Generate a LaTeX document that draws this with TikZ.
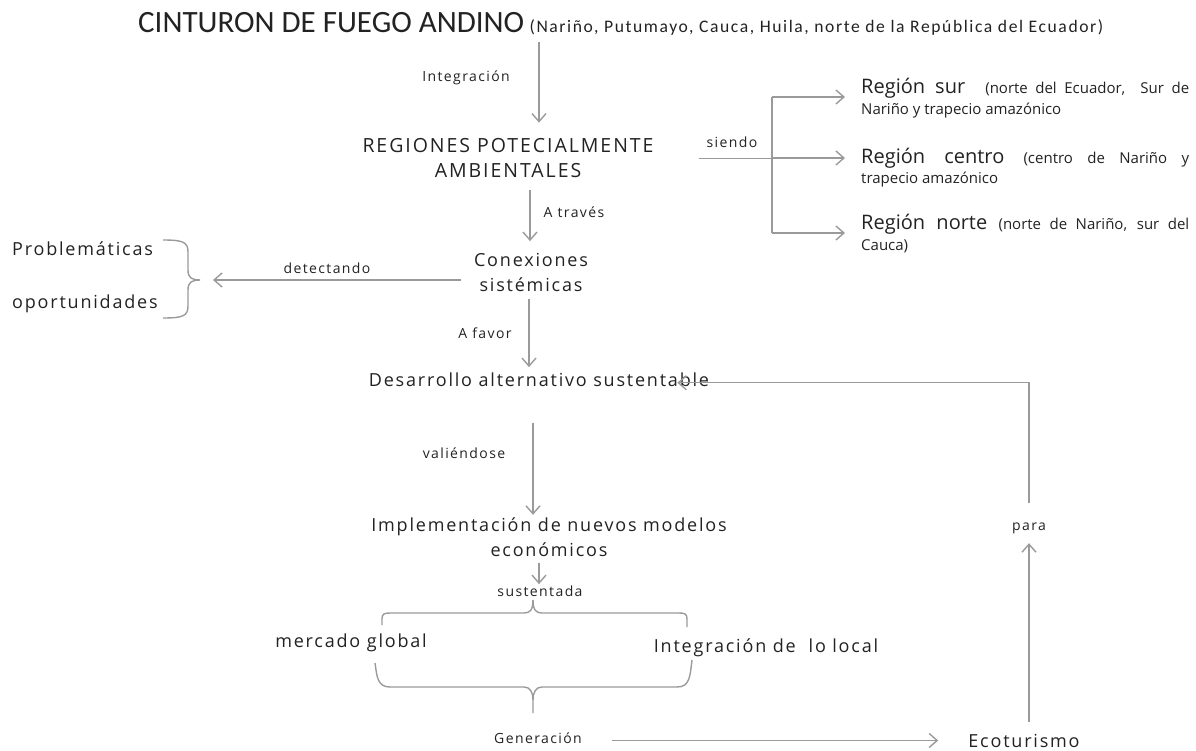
\documentclass[tikz,border=0pt]{standalone}
\usepackage{fontspec}
\setmainfont{Open Sans}[LetterSpace=10]
\newfontfamily\regfont{Open Sans}
\newfontfamily\calib{Carlito}
\newfontfamily\calibsp{Carlito}[LetterSpace=9]
\usetikzlibrary{arrows.meta}
\definecolor{txtc}{HTML}{222222}
\definecolor{lnc}{HTML}{9A9A9A}
\newcommand\rbigf{\regfont\fontsize{20}{24}\selectfont}
\newcommand\rsmallf{\regfont\fontsize{15}{18}\selectfont}
\begin{document}
\begin{tikzpicture}[x=1pt,y=-1pt,
  every node/.style={inner sep=1pt, text=txtc},
  body/.style={font=\fontsize{18}{25}\selectfont},
  bodyc/.style={body, align=center},
  lab/.style={font=\fontsize{14}{17}\selectfont},
  rline/.style={anchor=base west},
  ln/.style={draw=lnc, line width=1.4pt},
  arr/.style={ln, -{Straight Barb[length=8pt,width=14pt]}},
]
\useasboundingbox (0,0) rectangle (1196,751);

% ---- title
\node[anchor=base west, font=\calib\fontsize{31}{36}\selectfont] (title) at (137,33) {CINTURON DE FUEGO ANDINO};
\node[anchor=base west, font=\calibsp\fontsize{17.6}{20}\selectfont] (sub) at ([xshift=3pt]title.base east) {(Nariño, Putumayo, Cauca, Huila, norte de la República del Ecuador)};

% ---- main column
\node[lab, anchor=base] (lInteg) at (466,82) {Integración};
\node[bodyc, font=\fontsize{19.5}{25}\selectfont] (regiones) at (508,158.5) {REGIONES POTECIALMENTE\\AMBIENTALES};
\node[lab, anchor=base] (lTraves) at (574,218) {A través};
\node[bodyc] (conex) at (531,272.5) {Conexiones\\sistémicas};
\node[lab, anchor=base] (lFavor) at (485,338) {A favor};
\node[body, anchor=base] (desarrollo) at (539,386) {Desarrollo alternativo sustentable};
\node[lab, anchor=base] (lVal) at (464,458) {valiéndose};
\node[bodyc] (impl) at (549,537.5) {Implementación de nuevos modelos\\económicos};
\node[lab, anchor=base] (lSust) at (540,596) {sustentada};
\node[body, anchor=base] (mercado) at (351,647) {mercado global};
\node[body, anchor=base] (local) at (766,652) {Integración de\ \ lo local};
\node[lab, anchor=base] (gen) at (538,743) {Generación};
\node[body, anchor=base] (ecot) at (1024,747) {Ecoturismo};
\node[lab, anchor=base] (para) at (1029,530) {para};

% ---- left
\node[body, anchor=base west] (probl) at (11,255) {Problemáticas};
\node[body, anchor=base west] (oport) at (11,308) {oportunidades};
\node[lab, anchor=base] (lDetect) at (327,273) {detectando};
\coordinate (btip) at (200,280);

% ---- right regions
\node[lab, anchor=base] (lSiendo) at (732,148) {siendo};
\coordinate (sj) at (772,158);
\coordinate (sjTop) at (772,97);
\coordinate (sjBot) at (772,233);
\node[rline] (r1a) at (860,94) {\makebox[328pt][s]{\rbigf Región sur\ \ {\rsmallf (norte del Ecuador,\ \ Sur de}}};
\node[rline] (r1b) at (860,115) {\rsmallf Nariño y trapecio amazónico};
\node[rline] (r2a) at (860,164) {\makebox[328pt][s]{\rbigf Región centro {\rsmallf (centro de Nariño y}}};
\node[rline] (r2b) at (860,184) {\rsmallf trapecio amazónico};
\node[rline] (r3a) at (860,230) {\makebox[328pt][s]{\rbigf Región norte {\rsmallf (norte de Nariño, sur del}}};
\node[rline] (r3b) at (860,251) {\rsmallf Cauca)};

% ---- connectors main column
\draw[arr, shorten <=8pt, shorten >=15pt] (title.south -| 539,0) -- (regiones.north -| 539,0);
\draw[arr, shorten <=11pt, shorten >=11pt] (regiones.south -| 530,0) -- (conex.north -| 530,0);
\draw[arr, shorten <=6pt, shorten >=4pt] (conex.south -| 529,0) -- (desarrollo.north -| 529,0);
\draw[arr, shorten <=36pt, shorten >=2pt] (desarrollo.south -| 533,0) -- (impl.north -| 533,0);
\draw[arr, shorten <=5pt, shorten >=0pt] (impl.south -| 539,0) -- (lSust.north -| 539,0);

% ---- left arrow
\draw[arr, shorten >=13pt] ([yshift=-7.5pt, xshift=-12pt]conex.west) -- (btip);
% brace (pointing right)
\draw[ln] (163,240) .. controls (183,240) and (188,242) .. (188,252) -- (188,270) .. controls (188,278) and (192,280) .. (btip);
\draw[ln] (163,318) .. controls (183,318) and (188,316) .. (188,306) -- (188,290) .. controls (188,282) and (192,280) .. (btip);

% ---- regions
\draw[ln, shorten <=44pt] (regiones.east) -- (regiones.east -| sj);
\draw[ln] (sjTop) -- (sjBot);
\draw[arr, shorten >=15pt] (sjTop) -- (sjTop -| r1a.west);
\draw[arr, shorten >=15pt] (sj) -- (sj -| r2a.west);
\draw[arr, shorten >=15pt] (sjBot) -- (sjBot -| r3a.west);

% ---- braces at bottom
\coordinate (tTop) at (533,600);
\coordinate (tBot) at (533,713);
\draw[ln] (382,625) -- (382,619) .. controls (382,614) and (384,613) .. (390,613) -- (524,613) .. controls (530,613) and (533,610) .. (tTop);
\draw[ln] (687,627) -- (687,619) .. controls (687,614) and (685,613) .. (679,613) -- (542,613) .. controls (536,613) and (533,610) .. (tTop);
\draw[ln] (375,663) .. controls (377,676) and (377,687) .. (390,687) -- (524,687) .. controls (530,687) and (533,692) .. (533,700) -- (tBot);
\draw[ln] (692,660) .. controls (690,676) and (690,687) .. (677,687) -- (542,687) .. controls (536,687) and (533,692) .. (533,700);

% ---- bottom / feedback
\draw[arr, shorten <=29.5pt, shorten >=29pt] (ecot.west -| gen.east) -- (ecot.west);
\draw[arr, shorten <=11pt, shorten >=8.6pt] (ecot.north -| para.south) -- (para.south);
\draw[arr, shorten <=18.5pt, shorten >=-33pt] (para.north) |- ([yshift=-3.5pt]desarrollo.east);
\end{tikzpicture}
\end{document}
